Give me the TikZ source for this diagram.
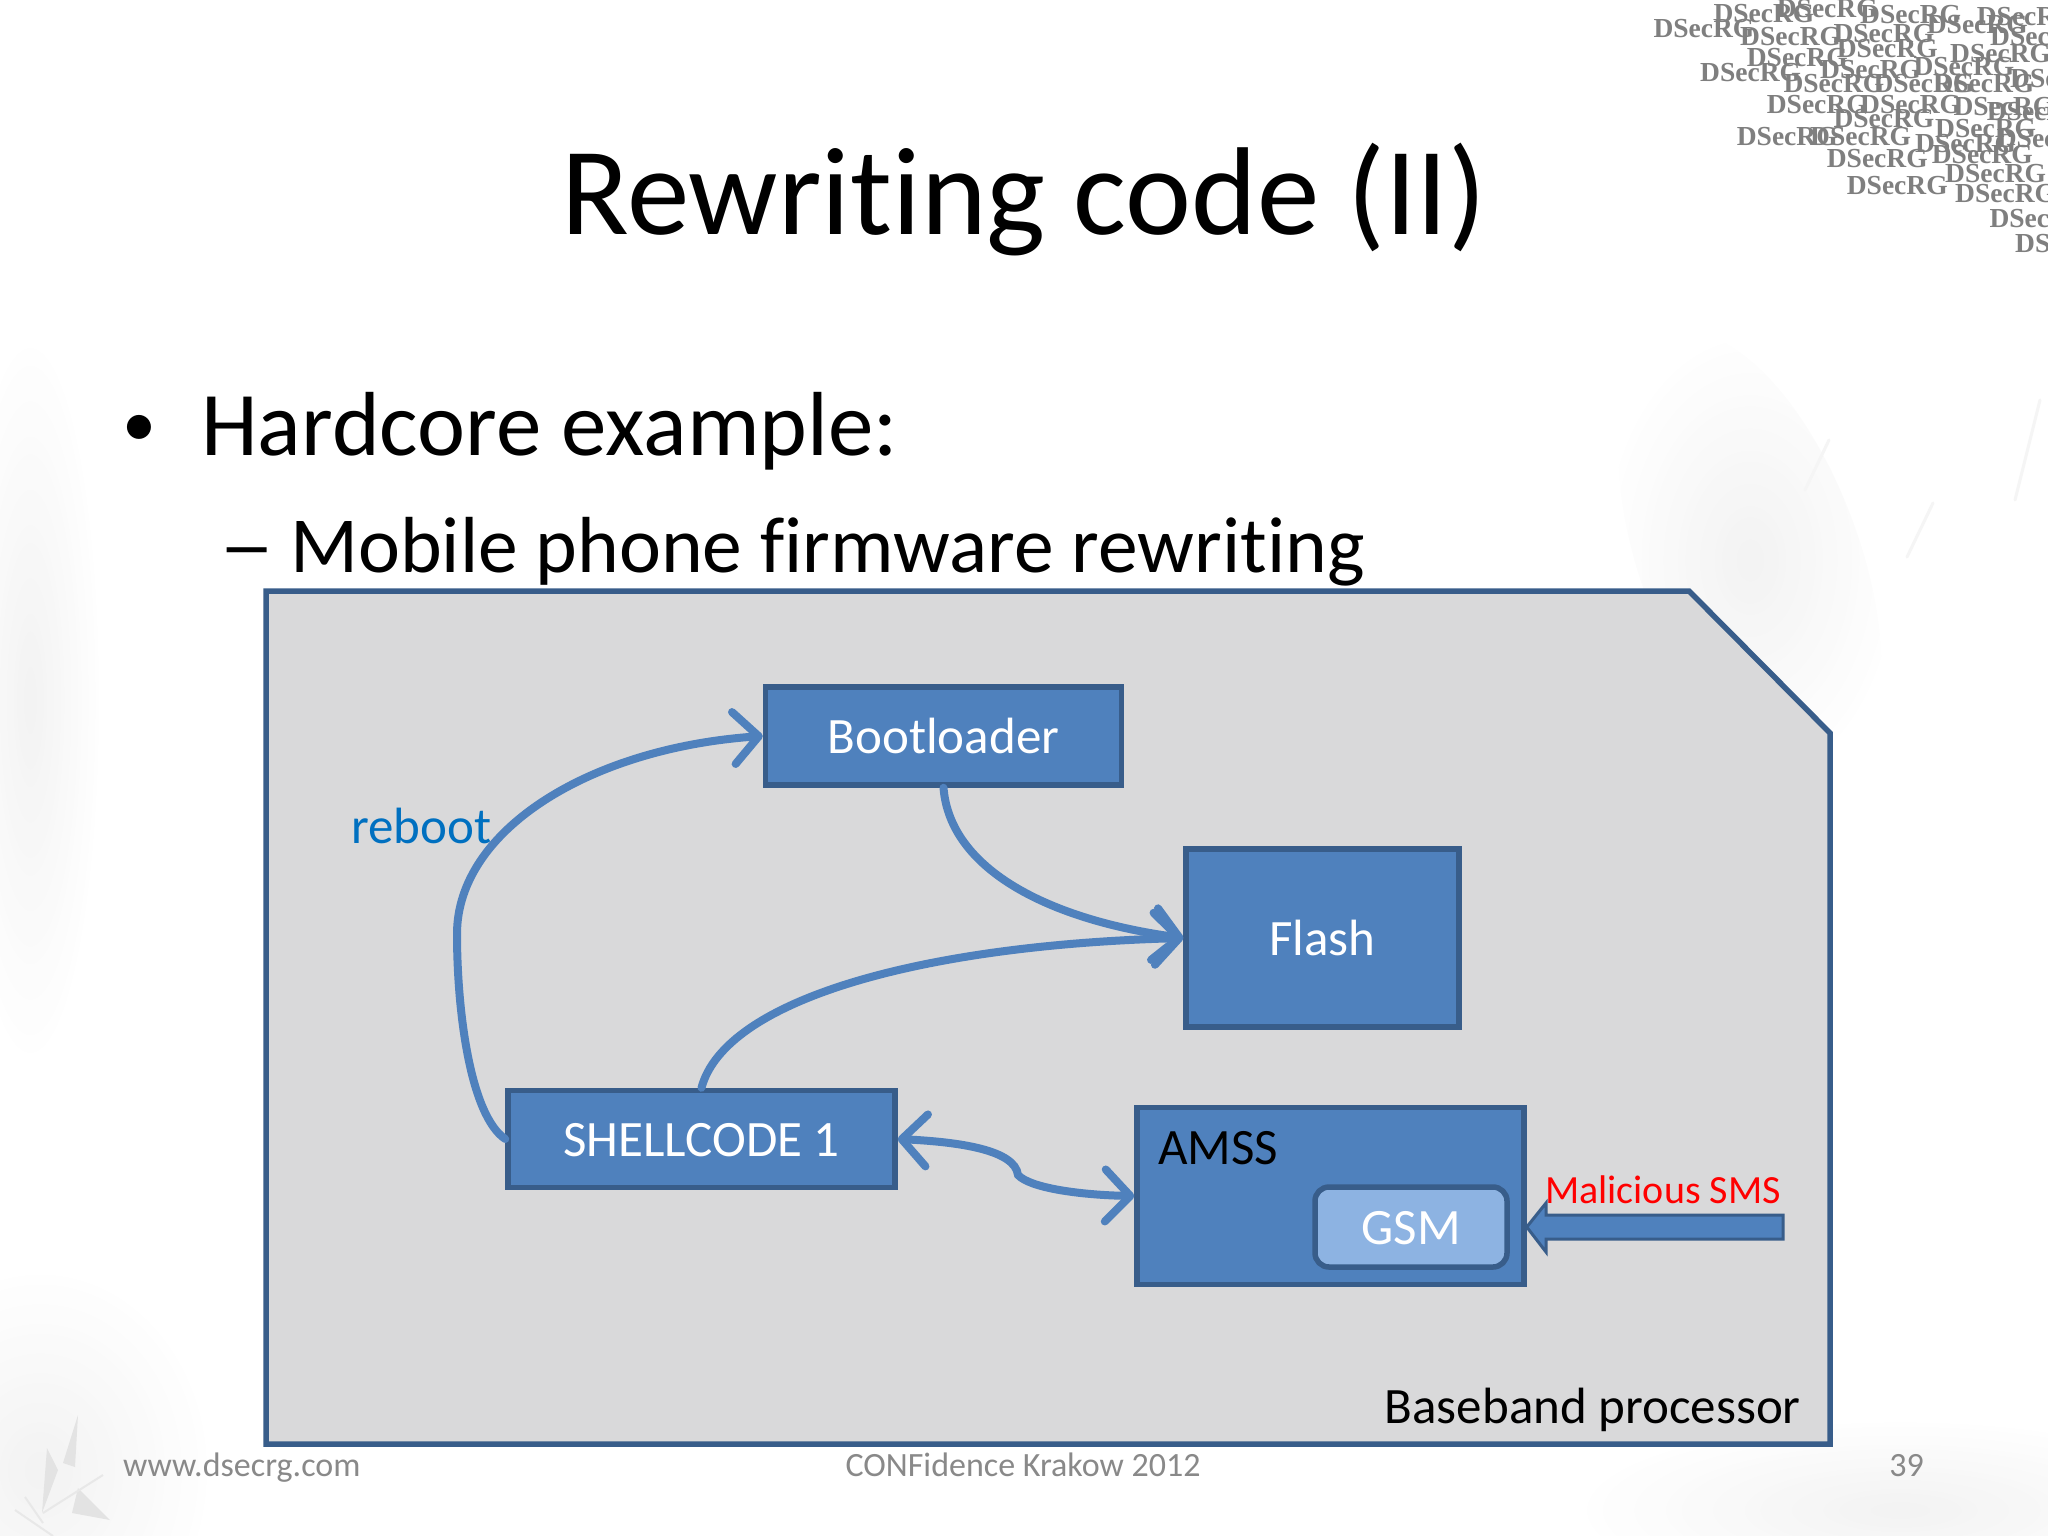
\documentclass[tikz,border=0pt]{standalone}
\usepackage{fontspec}
\setmainfont{Carlito}[Ligatures=NoCommon]
\newfontfamily\stampfont{Liberation Serif}[BoldFont={Liberation Serif Bold}]
\usetikzlibrary{arrows.meta,fadings}
\definecolor{boxfill}{HTML}{4F81BD}
\definecolor{boxline}{HTML}{385D8A}
\definecolor{gsmfill}{HTML}{8DB3E2}
\definecolor{panelfill}{HTML}{D9D9DA}
\definecolor{rebootblue}{HTML}{0070C0}
\definecolor{footgray}{HTML}{898989}
\definecolor{stampgray}{HTML}{7F7F7F}
\newcommand{\fsz}[1]{\fontsize{#1}{#1}\selectfont}
\tikzfading[name=washfade,inner color=transparent!92,outer color=transparent!100]
\tikzset{
  blockbox/.style={draw=boxline,fill=boxfill,line width=5.5pt,inner sep=0pt,text=white,font=\fsz{51},text height=35pt,text depth=0pt},
  flowline/.style={draw=boxfill,line width=8pt,line cap=round,-{Straight Barb[length=25pt,width=52pt,line width=8pt,round]}},
  footnode/.style={text=footgray,font=\fsz{34},inner sep=0pt},
  stamp/.style={text=stampgray,font=\stampfont\bfseries\fsz{27.5},inner sep=0pt,anchor=west},
  wash/.style={fill=black!60,path fading=washfade},
  streak/.style={draw=black!4,line width=3pt,line cap=round},
  bamboo/.style={fill=black!11},
}
\begin{document}
\begin{tikzpicture}[x=1pt,y=-1pt]
  \useasboundingbox (0,0) rectangle (2048,1536);
  \fill[white] (0,0) rectangle (2048,1536);

  % background wash
  \fill[wash,rotate around={20:(1750,560)}] (1750,560) ellipse (110 and 240);
  \fill[wash] (40,1470) ellipse (170 and 200);
  \fill[wash] (1900,1510) ellipse (320 and 90);
  \fill[wash] (30,700) ellipse (70 and 360);
  \draw[streak] (1829,440) -- (1805,490);
  \draw[streak] (1933,503) -- (1907,557);
  \draw[streak] (2040,400) -- (2015,500);
  \fill[bamboo] (78,1415) -- (63,1463) -- (75,1467) -- cycle;
  \fill[bamboo] (47,1448) -- (42,1513) -- (58,1470) -- cycle;
  \fill[bamboo] (72,1513) -- (78,1488) -- (110,1520) -- cycle;
  \draw[black!9,line width=2pt] (15,1510) -- (53,1536);
  \draw[black!9,line width=2pt] (43,1513) -- (103,1475);
  \draw[black!9,line width=2pt] (25,1497) -- (43,1523);

  % corner stamps
  \begin{scope}
    \clip (1600,0) rectangle (2048,260);
    \foreach \sx/\sy in {280/40,470/25,720/45,1070/50,100/85,360/110,640/100,920/75,
        650/145,1110/110,380/172,990/160,240/218,600/210,880/200,1170/235,490/250,
        760/250,940/250,440/315,720/315,1000/320,1100/335,640/355,945/385,350/410,
        570/410,885/430,1130/415,620/475,935/465,975/520,680/558,1005/582,1108/655,1185/730}
      \node[stamp] at ({1620+\sx/3},{\sy/3}) {DSecRG};
  \end{scope}

  % slide text
  \node[font=\fsz{125},inner sep=0pt] (title) at (1024,200) {Rewriting code (II)};
  \node[font=\fsz{91},inner sep=0pt,anchor=base west] (bulletone) at (201,455) {Hardcore example:};
  \node[font=\fsz{68},inner sep=0pt,anchor=base west] (bulletdot) at (122,446) {•};
  \node[font=\fsz{79.5},inner sep=0pt,anchor=base west] (bullettwo) at (290,572) {Mobile phone firmware rewriting};
  \node[font=\fsz{80},inner sep=0pt,anchor=base west,xscale=.68] (bulletdash) at (222,572) {—};

  % panel
  \coordinate (PA) at (266,591);
  \coordinate (PB) at (1689,591);
  \coordinate (PC) at (1830,733);
  \coordinate (PD) at (1830,1444);
  \coordinate (PE) at (266,1444);
  \draw[draw=boxline,fill=panelfill,line width=5.5pt] (PA) -- (PB) -- (PC) -- (PD) -- (PE) -- cycle;

  % footer
  \node[footnode,anchor=west] (footleft) at (123,1468) {www.dsecrg.com};
  \node[footnode] (footmid) at (1023,1465) {CONFidence Krakow 2012};
  \node[footnode,anchor=east] (footright) at (1924,1466) {39};

  % boxes
  \node[blockbox,minimum width=356pt,minimum height=98pt] (BOOT) at (943.5,736) {Bootloader};
  \node[blockbox,minimum width=273pt,minimum height=178pt] (FLASH) at (1322.5,938) {Flash};
  \node[blockbox,minimum width=387pt,minimum height=97pt] (SHELL) at (701.5,1139) {SHELLCODE 1};
  \node[blockbox,minimum width=387pt,minimum height=177pt] (AMSS) at (1330.5,1196) {};
  \node[blockbox,fill=gsmfill,rounded corners=14pt,minimum width=192pt,minimum height=80pt] (GSM) at (1411,1227) {GSM};

  % connectors
  \draw[flowline] (SHELL.west) .. controls (470,1115) and (457,1010) .. (457,934)
      .. controls (457,830) and (590,748) .. (BOOT.west);
  \draw[flowline] (BOOT.south) .. controls (950,870) and (1050,920) .. (FLASH.west);
  \draw[flowline] (SHELL.north) .. controls (725,1000) and (920,945) .. (FLASH.west);
  \draw[flowline,{Straight Barb[length=25pt,width=52pt,line width=8pt,round]}-{Straight Barb[length=25pt,width=52pt,line width=8pt,round]}]
      (SHELL.east) .. controls (960,1142) and (1015,1150) .. (1018,1175)
      .. controls (1030,1188) and (1080,1195) .. (AMSS.west);

  % sms arrow
  \coordinate (SMSTAIL) at (1783,1227);
  \draw[draw=boxline,fill=boxfill,line width=3pt] (SMSTAIL |- 0,1215) -- (1546,1215) -- (1546,1203)
      -- (AMSS.east |- SMSTAIL) -- (1546,1252) -- (1546,1239) -- (SMSTAIL |- 0,1239) -- cycle;

  % labels
  \node[text=rebootblue,font=\fsz{51},inner sep=0pt,anchor=west] (reboot) at (351,826) {reboot};
  \node[font=\fsz{51},inner sep=0pt,anchor=west] (amsslabel) at (1158,1148) {AMSS};
  \node[text=red,font=\fsz{40},inner sep=0pt,anchor=west] (smslabel) at (1545,1190) {Malicious SMS};
  \node[font=\fsz{51},inner sep=0pt,anchor=east] (baseband) at (1801,1410) {Baseband processor};
\end{tikzpicture}
\end{document}
